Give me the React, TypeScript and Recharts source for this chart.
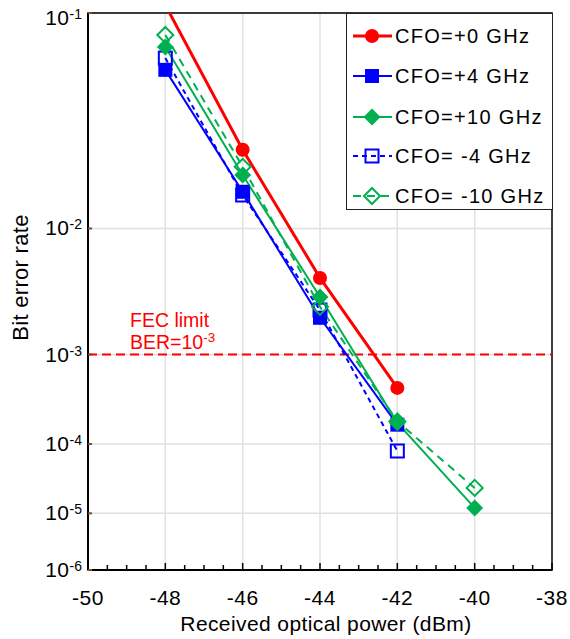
import React from 'react';
import { LineChart, Line, XAxis, YAxis, CartesianGrid, ReferenceLine, ReferenceArea } from 'recharts';

// ---- data (BER values) ----
const powers = [-48, -46, -44, -42, -40];
const berCfo0 = [0.106, 0.028, 0.00452, 0.000457, null];
const berCfoP4 = [0.063, 0.0167, 0.00216, 0.000174, null];
const berCfoP10 = [0.0766, 0.0207, 0.00321, 0.000183, 1.22e-5];
const berCfoM4 = [0.0698, 0.016, 0.00251, 8.1e-5, null];
const berCfoM10 = [0.0845, 0.0229, 0.00267, 0.00019, 2.47e-5];

const xMajorTicks = [-50, -48, -46, -44, -42, -40, -38];
const xGridTicks = [-48, -46, -44, -42, -40];
const xAllTicks = [
  -50, -49.5, -49, -48.5, -48, -47.5, -47, -46.5, -46, -45.5, -45, -44.5, -44,
  -43.5, -43, -42.5, -42, -41.5, -41, -40.5, -40, -39.5, -39, -38.5, -38,
];
const yExponents = [-1, -2, -3, -4, -5, -6];
const fecLimit = 1e-3;

const seriesNames = ['CFO=+0 GHz', 'CFO=+4 GHz', 'CFO=+10 GHz', 'CFO= -4 GHz', 'CFO= -10 GHz'];

// BER axis uses log10(-log10(BER)) scale
const tf = (b: number | null) => (b == null ? null : Math.log10(-Math.log10(b)));
const yTicks = yExponents.map((e) => tf(Math.pow(10, e)) as number);
const yMax = yTicks[yTicks.length - 1];

const data = powers.map((p, i) => ({
  x: p,
  s0: tf(berCfo0[i]),
  p4: tf(berCfoP4[i]),
  p10: tf(berCfoP10[i]),
  m4: tf(berCfoM4[i]),
  m10: tf(berCfoM10[i]),
}));

const RED = '#ff0000';
const BLUE = '#0000ff';
const GREEN = '#00b050';
const FONT = '"Liberation Sans", Arial, sans-serif';

type Kind = 'circle' | 'squareFill' | 'squareOpen' | 'diamondFill' | 'diamondOpen';

const Marker = ({ kind, cx, cy, color }: { kind: Kind; cx: number; cy: number; color: string }) => {
  if (cx == null || cy == null || isNaN(cx) || isNaN(cy)) return null;
  if (kind === 'circle') return <circle cx={cx} cy={cy} r={7} fill={color} />;
  if (kind === 'squareFill') return <rect x={cx - 7} y={cy - 7} width={14} height={14} fill={color} />;
  if (kind === 'squareOpen')
    return <rect x={cx - 6.5} y={cy - 6.5} width={13} height={13} fill="none" stroke={color} strokeWidth={2} />;
  const d = kind === 'diamondFill' ? 8.5 : 8;
  const pts = `${cx},${cy - d} ${cx + d},${cy} ${cx},${cy + d} ${cx - d},${cy}`;
  if (kind === 'diamondFill') return <polygon points={pts} fill={color} />;
  return <polygon points={pts} fill="none" stroke={color} strokeWidth={2} />;
};

const seriesStyle = [
  { key: 's0', color: RED, width: 3, dash: undefined, kind: 'circle' as Kind },
  { key: 'p4', color: BLUE, width: 2, dash: undefined, kind: 'squareFill' as Kind },
  { key: 'p10', color: GREEN, width: 2, dash: undefined, kind: 'diamondFill' as Kind },
  { key: 'm4', color: BLUE, width: 2, dash: '5 4', kind: 'squareOpen' as Kind },
  { key: 'm10', color: GREEN, width: 2, dash: '8 6', kind: 'diamondOpen' as Kind },
];
// drawing order (back to front)
const drawOrder = [0, 3, 1, 4, 2];

const XTick = (props: any) => {
  const { x, y, payload } = props;
  const v = payload.value;
  const major = xMajorTicks.includes(v);
  return (
    <g>
      <line x1={x} x2={x} y1={y} y2={y - (major ? 7 : 5)} stroke="#000" strokeWidth={1.5} />
      {major && (
        <text x={x} y={y + 35} textAnchor="middle" fontFamily={FONT} fontSize={21} letterSpacing={0.5} fill="#000">
          {String(v)}
        </text>
      )}
    </g>
  );
};

const YTick = (props: any) => {
  const { x, y, payload } = props;
  const exp = -Math.round(Math.pow(10, payload.value));
  const base = payload.value <= 1e-9 ? y + 12 : y + 7;
  return (
    <g>
      <line x1={x} x2={x + 4} y1={y} y2={y} stroke="#7a4a2a" strokeWidth={2} />
      <text x={x - 6} y={base} textAnchor="end" fontFamily={FONT} fontSize={21} letterSpacing={0.5} fill="#000">
        <tspan>10</tspan>
        <tspan dy={-6} fontSize={14} letterSpacing={0}>{String(exp)}</tspan>
      </text>
    </g>
  );
};

const FecLabel = (props: any) => {
  const vb = props.viewBox || {};
  const x = (vb.x ?? 80) + 42;
  const y = vb.y ?? 0;
  return (
    <g>
      <text x={x} y={y - 28} fontFamily={FONT} fontSize={19.5} fill={RED}>FEC limit</text>
      <text x={x} y={y - 6} fontFamily={FONT} fontSize={19.5} fill={RED}>
        <tspan>BER=10</tspan>
        <tspan dy={-7} fontSize={13.5}>-3</tspan>
      </text>
    </g>
  );
};

const XTitle = (props: any) => {
  const vb = props.viewBox || {};
  return (
    <text x={vb.x + vb.width / 2 + 6} y={vb.y + 61} textAnchor="middle" fontFamily={FONT} fontSize={21} letterSpacing={0.4} fill="#000">
      Received optical power (dBm)
    </text>
  );
};

const YTitle = (props: any) => {
  const vb = props.viewBox || {};
  const cx = 20;
  const cy = vb.y + vb.height / 2 - 14;
  return (
    <text x={cx} y={cy} transform={`rotate(-90, ${cx}, ${cy})`} textAnchor="middle" fontFamily={FONT} fontSize={22} letterSpacing={0.3} fill="#000">
      Bit error rate
    </text>
  );
};

const LegendBox = () => {
  const rows = [23, 63, 104, 143, 183];
  return (
    <div
      style={{
        position: 'absolute',
        left: 338,
        top: 5,
        width: 207,
        height: 197,
        border: '1.5px solid #222',
        background: '#fff',
        boxSizing: 'border-box',
      }}
    >
      <svg width={207} height={197} style={{ position: 'absolute', left: -1.5, top: -1.5 }}>
        {seriesStyle.map((s, i) => (
          <g key={s.key}>
            <line x1={7} x2={46} y1={rows[i]} y2={rows[i]} stroke={s.color} strokeWidth={s.width} strokeDasharray={s.dash} />
            <Marker kind={s.kind} cx={26} cy={rows[i]} color={s.color} />
            <text x={49} y={rows[i] + 7} fontFamily={FONT} fontSize={20} letterSpacing={1.3} fill="#000">
              {seriesNames[i]}
            </text>
          </g>
        ))}
      </svg>
    </div>
  );
};

export default function App() {
  return (
    <div style={{ position: 'relative', width: 562, height: 631 }}>
      <style>{`body { margin: 8px 0 0 8px; } svg.recharts-surface { overflow: visible; }`}</style>
      <LineChart width={562} height={631} data={data} margin={{ top: 5, right: 18, left: 0, bottom: 0 }}>
        <CartesianGrid vertical={false} stroke="#e0e0e0" strokeWidth={1.5} />
        {xGridTicks.map((v) => (
          <ReferenceLine key={v} x={v} stroke="#e0e0e0" strokeWidth={1.5} zIndex={-50} />
        ))}
        <XAxis
          type="number"
          dataKey="x"
          domain={[-50, -38]}
          ticks={xAllTicks}
          interval={0}
          allowDataOverflow
          height={69}
          tickSize={0}
          tickMargin={0}
          tickLine={false}
          tick={<XTick />}
          axisLine={{ stroke: '#000', strokeWidth: 2 }}
          label={<XTitle />}
        />
        <YAxis
          type="number"
          domain={[0, yMax]}
          reversed
          allowDataOverflow
          ticks={yTicks}
          interval={0}
          width={80}
          tickSize={0}
          tickMargin={0}
          tickLine={false}
          tick={<YTick />}
          axisLine={{ stroke: '#000', strokeWidth: 2 }}
          label={<YTitle />}
        />
        <ReferenceArea x1={-50} x2={-38} y1={0} y2={yMax} fill="none" fillOpacity={0} stroke="#000" strokeWidth={1.5} />
        <ReferenceLine
          y={tf(fecLimit) as number}
          stroke={RED}
          strokeWidth={2}
          strokeDasharray="9 5"
          label={<FecLabel />}
        />
        {drawOrder.map((i) => {
          const s = seriesStyle[i];
          return (
            <Line
              key={s.key}
              dataKey={s.key}
              name={seriesNames[i]}
              stroke={s.color}
              strokeWidth={s.width}
              strokeDasharray={s.dash}
              isAnimationActive={false}
              connectNulls={false}
              dot={(p: any) => <Marker key={`${s.key}-${p.index}`} kind={s.kind} cx={p.cx} cy={p.cy} color={s.color} />}
              activeDot={false}
            />
          );
        })}
      </LineChart>
      <LegendBox />
    </div>
  );
}
